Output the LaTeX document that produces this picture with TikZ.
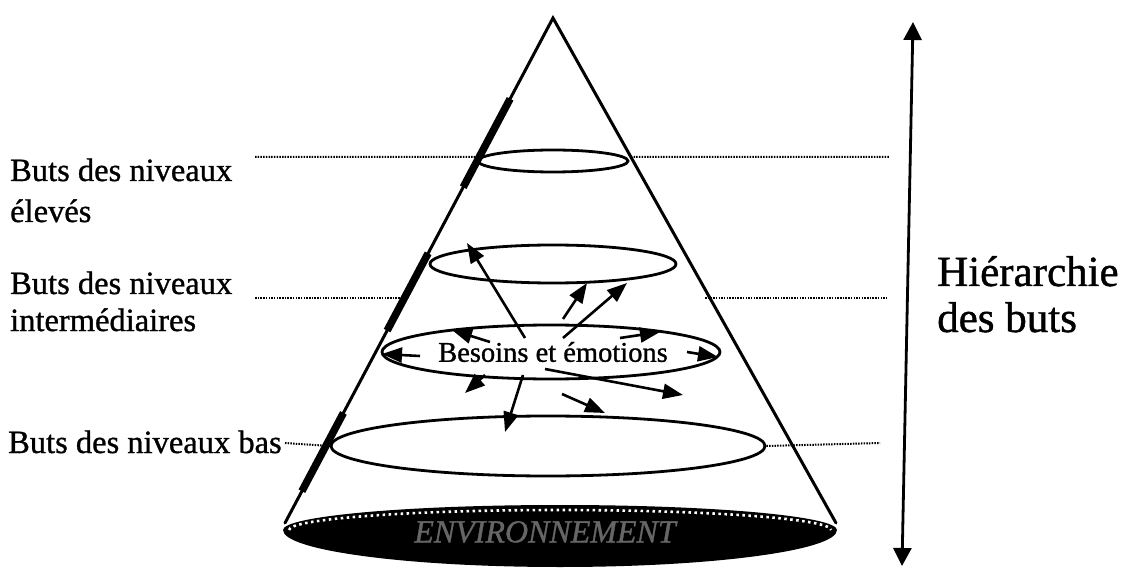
\documentclass[tikz,border=0pt]{standalone}
\usepackage{fontspec}
\setmainfont{Liberation Serif}[FakeBold=1]
\usetikzlibrary{arrows.meta,calc,shapes.geometric}
\begin{document}
\begin{tikzpicture}[x=1pt,y=-1pt,
  coneline/.style={line width=3pt, line cap=round},
  ring/.style={draw, ellipse, line width=2.8pt, inner sep=0pt},
  dotline/.style={line width=2pt, dash pattern=on 1.5pt off 1.2pt},
  thickseg/.style={line width=7.5pt},
  arr/.style={line width=2.6pt, -{Triangle[length=20pt,width=15pt]}},
  bigarr/.style={line width=2.8pt, {Triangle[length=18pt,width=18pt]}-{Triangle[length=18pt,width=18pt]}},
  lab/.style={inner sep=0pt, anchor=base west, font=\fontsize{32.5}{36}\selectfont},
  hlab/.style={inner sep=0pt, anchor=base west, font=\fontsize{43}{46}\selectfont}
]
\useasboundingbox (0,0) rectangle (1125,572);

% cone
\coordinate (apex) at (553,18);
\coordinate (bl) at (285,523);
\coordinate (br) at (836,523);

% base (environment)
\coordinate (envc) at (560,530);
\fill (envc) ++(-277,0) arc[start angle=180, end angle=360, x radius=277, y radius=25]
  arc[start angle=0, end angle=180, x radius=277, y radius=37] -- cycle;
\draw[white, line width=2.6pt, dash pattern=on 2.5pt off 3.5pt]
  (envc) ++(-271,0) arc[start angle=180, end angle=360, x radius=271, y radius=20];
\node[text=white!40!black, font=\itshape\fontsize{32}{36}\selectfont, inner sep=0pt] (envtxt) at (545,532) {ENVIRONNEMENT};

\draw[coneline] (bl) -- (apex) -- (br);

% thick segments on the left edge
\draw[thickseg] ($(apex)!0.16!(bl)$) -- ($(apex)!0.335!(bl)$);
\draw[thickseg] ($(apex)!0.466!(bl)$) -- ($(apex)!0.619!(bl)$);
\draw[thickseg] ($(apex)!0.782!(bl)$) -- ($(apex)!0.937!(bl)$);

% rings
\node[ring, minimum width=150pt, minimum height=22pt] (e1) at (553,161) {};
\node[ring, minimum width=246pt, minimum height=38pt] (e2) at (553,264) {};
\node[ring, minimum width=338pt, minimum height=54pt] (e3) at (551,352) {};
\node[ring, minimum width=434pt, minimum height=60pt] (e4) at (548,446) {};

% labels
\node[lab] (l1a) at (10,181) {Buts des niveaux};
\node[lab] (l1b) at (10,222) {élevés};
\node[lab] (l2a) at (10,294) {Buts des niveaux};
\node[lab] (l2b) at (10,331) {intermédiaires};
\node[lab] (l3) at (8,453) {Buts des niveaux bas};
\node[hlab] (h1) at (937,286) {Hiérarchie};
\node[hlab] (h2) at (937,332) {des buts};

% dotted level lines
\coordinate (d1a) at (255,157);
\coordinate (d1b) at ($(apex)!0.275!(bl)$);
\coordinate (d1c) at ($(apex)!0.275!(br)$);
\coordinate (d1d) at (890,157);
\draw[dotline] (d1a) -- (d1b);
\draw[dotline] (d1c) -- (d1d);
\coordinate (d2a) at (255,298);
\coordinate (d2b) at (405,298);
\coordinate (d2c) at (705,298);
\coordinate (d2d) at (888,298);
\draw[dotline] (d2a) -- (d2b);
\draw[dotline] (d2c) -- (d2d);
\coordinate (d3a) at (285,443);
\coordinate (d3d) at (880,443);
\draw[dotline] (d3a) -- (e4.west);
\draw[dotline] (e4.east) -- (d3d);

% hierarchy arrow
\coordinate (vt) at (913,22);
\coordinate (vb) at (902,566);
\draw[bigarr] (vb) -- (vt);

% needs and emotions
\node[inner sep=0pt, font=\fontsize{28.5}{30}\selectfont] (be) at (553,352) {Besoins et émotions};
\foreach \n/\s/\e in {1/{525,338}/{467,243}, 2/{563,319}/{587,283}, 3/{563,338}/{627,283},
  4/{490,342}/{452,330}, 5/{420,356}/{382,354}, 6/{620,338}/{660,332}, 7/{687,352}/{718,357},
  8/{485,375}/{465,393}, 9/{523,375}/{505,432}, 10/{545,369}/{683,395}, 11/{562,394}/{605,413}}{
  \coordinate (s\n) at (\s);
  \coordinate (t\n) at (\e);
  \draw[arr] (s\n) -- (t\n);
}
\end{tikzpicture}
\end{document}
